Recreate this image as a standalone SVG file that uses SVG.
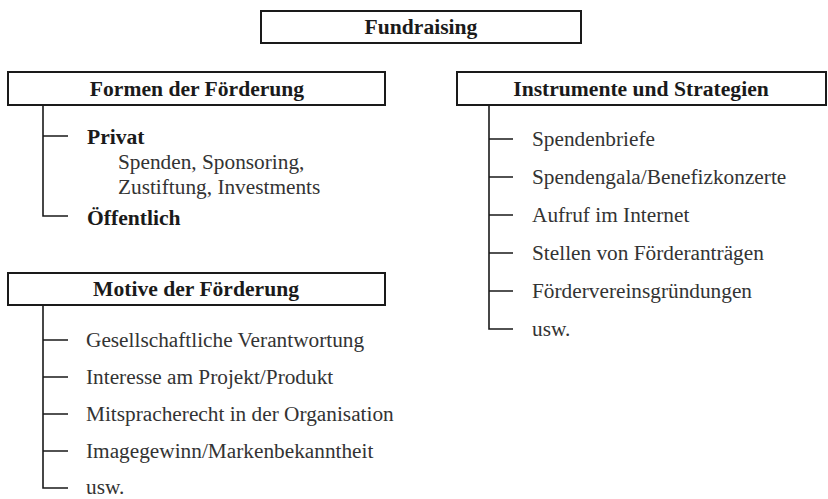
<svg xmlns="http://www.w3.org/2000/svg" width="828" height="499" viewBox="0 0 828 499">
<style>
.box{fill:#fff;stroke:#1a1a1a;stroke-width:2}
.ln{stroke:#1a1a1a;stroke-width:1.6;fill:none}
.h{font-family:"Liberation Serif",serif;font-weight:bold;font-size:21.6px;fill:#1a1a1a;text-anchor:middle}
.b{font-family:"Liberation Serif",serif;font-weight:bold;font-size:21.6px;fill:#1a1a1a}
.t{font-family:"Liberation Serif",serif;font-size:21.3px;fill:#333}
</style>
<rect width="828" height="499" fill="#fff"/>
<g id="connectors">
<path class="ln" d="M43 105V216H68M43 136H68"/>
<path class="ln" d="M43 305V488H68M43 340H68M43 377H68M43 414H68M43 451H68"/>
<path class="ln" d="M489 105V329H513M489 139H513M489 177H513M489 215H513M489 253H513M489 291H513"/>
</g>
<g id="fundraising">
<rect class="box" x="261" y="11" width="320" height="32"/>
<text class="h" x="421" y="34">Fundraising</text>
</g>
<g id="formen">
<rect class="box" x="8" y="72" width="377" height="33"/>
<text class="h" x="197" y="96">Formen der Förderung</text>
</g>
<g id="privat">
<text class="b" x="87" y="144">Privat</text>
<text class="t" x="118" y="169">Spenden, Sponsoring,</text>
<text class="t" x="118" y="194">Zustiftung, Investments</text>
</g>
<g id="oeffentlich">
<text class="b" x="87" y="225">Öffentlich</text>
</g>
<g id="motive">
<rect class="box" x="8" y="273" width="377" height="32"/>
<text class="h" x="196" y="296">Motive der Förderung</text>
</g>
<g id="motive-items">
<text class="t" x="86" y="347">Gesellschaftliche Verantwortung</text>
<text class="t" x="86" y="384">Interesse am Projekt/Produkt</text>
<text class="t" x="86" y="421">Mitspracherecht in der Organisation</text>
<text class="t" x="86" y="458">Imagegewinn/Markenbekanntheit</text>
<text class="t" x="86" y="494">usw.</text>
</g>
<g id="instrumente">
<rect class="box" x="457" y="72" width="369" height="33"/>
<text class="h" x="641" y="96">Instrumente und Strategien</text>
</g>
<g id="instrumente-items">
<text class="t" x="532" y="146">Spendenbriefe</text>
<text class="t" x="532" y="184">Spendengala/Benefizkonzerte</text>
<text class="t" x="532" y="222">Aufruf im Internet</text>
<text class="t" x="532" y="260">Stellen von Förderanträgen</text>
<text class="t" x="532" y="298">Fördervereinsgründungen</text>
<text class="t" x="532" y="336">usw.</text>
</g>
</svg>
